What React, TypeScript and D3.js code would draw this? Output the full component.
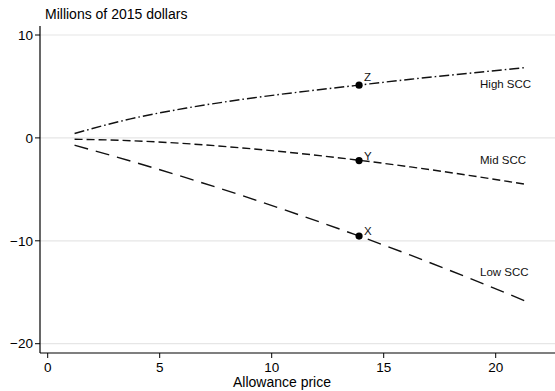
import React from "react";
import * as d3 from "d3";

// Allowance prices at which each scenario was evaluated
const priceGrid = [1.2, 3.7, 6.2, 8.7, 11.2, 13.7, 16.2, 18.8, 21.3];

// Net benefit (millions of 2015 dollars) under each social cost of carbon
const highScc = [0.43, 1.85, 2.9, 3.75, 4.45, 5.08, 5.7, 6.28, 6.83];
const midScc = [-0.13, -0.27, -0.56, -0.98, -1.5, -2.12, -2.82, -3.64, -4.5];
const lowScc = [-0.71, -2.25, -3.89, -5.62, -7.46, -9.38, -11.4, -13.61, -15.83];

const seriesNames = ["High SCC", "Mid SCC", "Low SCC"];

// Marked points at the chosen allowance price
const pointPrice = 13.9;
const pointNames = ["Z", "Y", "X"];
const pointValues = [5.12, -2.2, -9.54];

const xTicks = [0, 5, 10, 15, 20];
const yTicks = [-20, -10, 0, 10];

const W = 555;
const H = 391;
const FONT = "'Liberation Sans', Arial, Helvetica, sans-serif";

export default function App() {
  const x = d3.scaleLinear().domain([0, 20]).range([47.7, 495.7]);
  const y = d3.scaleLinear().domain([-20, 10]).range([343.7, 35]);

  const axisLeft = 40;
  const axisBottom = 353;
  const plotRight = W;
  const plotTop = 26;

  const series = [highScc, midScc, lowScc];
  const dashes = ["10,3,1.6,3", "8,4", "14,8"];
  const labelY = [5.2, -2.1, -13.0];
  const labelX = 19.3;
  const pointDy = [-8, -5, -5];

  const line = d3
    .line<number>()
    .x((_, i) => x(priceGrid[i]))
    .y((d) => y(d))
    .curve(d3.curveMonotoneX);

  const fmt = (v: number) => (v < 0 ? "\u2212" + Math.abs(v) : String(v));

  return (
    <svg
      width={W}
      height={H}
      style={{ position: "absolute", left: 0, top: 0, background: "#fff" }}
      fontFamily={FONT}
    >
      <rect x={0} y={0} width={W} height={H} fill="#fff" />

      {/* horizontal grid */}
      {yTicks.map((t) => (
        <line
          key={"g" + t}
          x1={axisLeft}
          x2={plotRight}
          y1={y(t)}
          y2={y(t)}
          stroke="#e6e6e6"
          strokeWidth={1.2}
        />
      ))}

      {/* axes */}
      <line x1={axisLeft} x2={axisLeft} y1={plotTop} y2={axisBottom} stroke="#000" strokeWidth={1.2} />
      <line x1={axisLeft} x2={plotRight} y1={axisBottom} y2={axisBottom} stroke="#000" strokeWidth={1.2} />

      {yTicks.map((t) => (
        <g key={"yt" + t}>
          <line x1={axisLeft - 5} x2={axisLeft} y1={y(t)} y2={y(t)} stroke="#000" strokeWidth={1} />
          <text x={axisLeft - 7} y={y(t)} dy="0.35em" textAnchor="end" fontSize={13.5} fill="#000">
            {fmt(t)}
          </text>
        </g>
      ))}

      {xTicks.map((t) => (
        <g key={"xt" + t}>
          <line x1={x(t)} x2={x(t)} y1={axisBottom} y2={axisBottom + 5} stroke="#000" strokeWidth={1} />
          <text x={x(t)} y={372} textAnchor="middle" fontSize={13.5} fill="#000">
            {fmt(t)}
          </text>
        </g>
      ))}

      <text x={282} y={387} textAnchor="middle" fontSize={14} fill="#000">
        Allowance price
      </text>
      <text x={45} y={19} textAnchor="start" fontSize={14} fill="#000">
        Millions of 2015 dollars
      </text>

      {/* scenario lines */}
      {series.map((s, i) => (
        <path
          key={"s" + i}
          d={line(s) || ""}
          fill="none"
          stroke="#111"
          strokeWidth={1.4}
          strokeDasharray={dashes[i]}
        />
      ))}

      {seriesNames.map((n, i) => (
        <text key={"n" + i} x={x(labelX)} y={y(labelY[i])} dy="0.35em" fontSize={11.5} fill="#111">
          {n}
        </text>
      ))}

      {/* marked points */}
      {pointValues.map((v, i) => (
        <g key={"p" + i}>
          <circle cx={x(pointPrice)} cy={y(v)} r={3.6} fill="#000" />
          <text
            x={x(pointPrice) + 5}
            y={y(v) + pointDy[i]}
            dy="0.35em"
            fontSize={11.5}
            fill="#111"
          >
            {pointNames[i]}
          </text>
        </g>
      ))}
    </svg>
  );
}
